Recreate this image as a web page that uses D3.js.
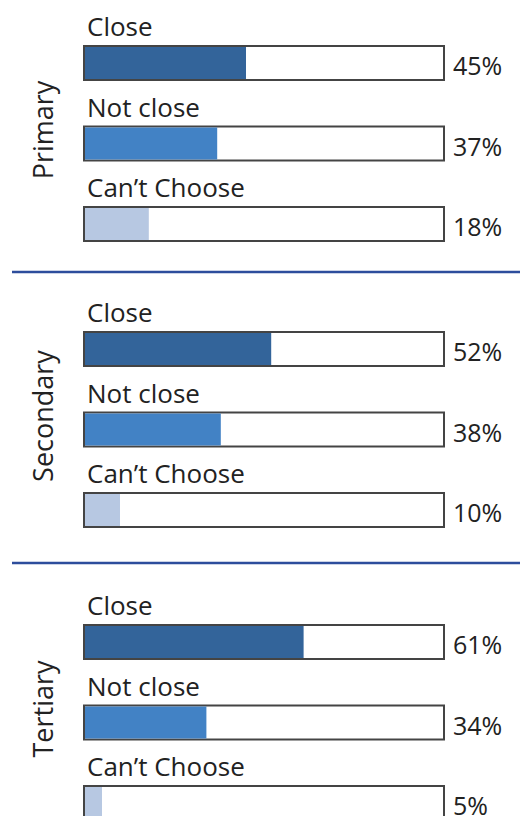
<!DOCTYPE html>
<html><head><meta charset="utf-8">
<script src="https://cdn.jsdelivr.net/npm/d3@7/dist/d3.min.js"></script>
<style>body{margin:0;background:#fff}svg{display:block}text{font-family:"Open Sans",Lato,sans-serif;fill:#222}</style>
</head><body><svg id="c" width="520" height="816"></svg>
<script>
const groups = ["Primary", "Secondary", "Tertiary"];
const categories = ["Close", "Not close", "Can\u2019t Choose"];
const primaryValues = [45, 37, 18];
const secondaryValues = [52, 38, 10];
const tertiaryValues = [61, 34, 5];
const seriesValues = [primaryValues, secondaryValues, tertiaryValues];
const colors = ["#33649a", "#4282c5", "#b7c8e2"];

const svg = d3.select("#c");
const x = d3.scaleLinear().domain([0, 100]).range([84, 444]);
const sectionTop = [46, 332, 625];
const sep = [272, 563];
const barStep = 80.5, barH = 34;

sep.forEach(y => svg.append("line").attr("x1", 12).attr("x2", 520).attr("y1", y).attr("y2", y)
  .attr("stroke", "#2d4d9c").attr("stroke-width", 2.5));

groups.forEach((g, gi) => {
  const top = sectionTop[gi];
  const gg = svg.append("g");
  gg.append("text").attr("transform", `translate(53,${top + 84}) rotate(-90)`)
    .attr("text-anchor", "middle").attr("font-size", 27).text(g);
  categories.forEach((c, ci) => {
    const y = top + ci * barStep;
    const v = seriesValues[gi][ci];
    gg.append("text").attr("x", 87).attr("y", y - 10).attr("font-size", 26).text(c);
    gg.append("rect").attr("x", x(0)).attr("y", y).attr("width", x(100) - x(0)).attr("height", barH)
      .attr("fill", "#fff").attr("stroke", "#444").attr("stroke-width", 2);
    gg.append("rect").attr("x", x(0) + 1).attr("y", y + 1).attr("width", x(v) - x(0) - 1).attr("height", barH - 2)
      .attr("fill", colors[ci]);
    gg.append("text").attr("x", 453).attr("y", y + 29).attr("font-size", 25).text(v + "%");
  });
});
</script></body></html>
